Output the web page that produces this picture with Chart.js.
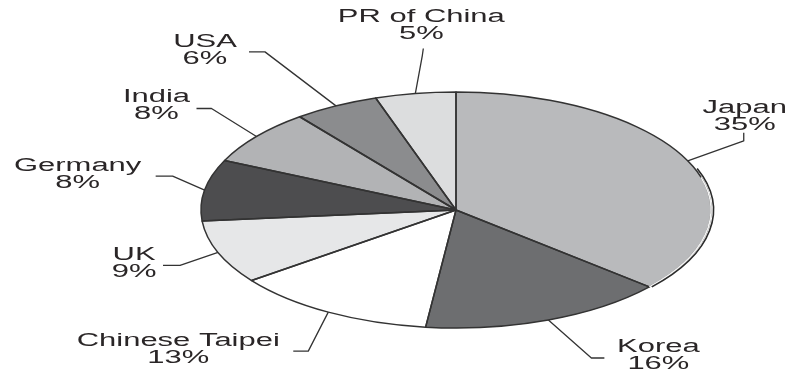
<!DOCTYPE html>
<html>
<head>
<meta charset="utf-8">
<script src="https://cdn.jsdelivr.net/npm/chart.js@4.4.1/dist/chart.umd.min.js"></script>
<style>
  html, body { margin: 0; padding: 0; background: #fff; }
  #wrap { width: 793px; height: 373px; position: relative; }
</style>
</head>
<body>
<div id="wrap"><canvas id="myChart"></canvas></div>
<script>
// pie data, clockwise from 12 o'clock
var countries = ['Japan', 'Korea', 'Chinese Taipei', 'UK', 'Germany', 'India', 'USA', 'PR of China'];
var shares = [36.3, 15.6, 12.9, 8.7, 8.4, 7.6, 5.4, 5.1];   // slice sizes
var pctLabels = ['35%', '16%', '13%', '9%', '8%', '8%', '6%', '5%'];
var fills = ['#b9babc', '#6d6e70', '#ffffff', '#e6e7e8', '#4d4d4f', '#b2b3b5', '#8b8c8e', '#dcddde'];

// leader lines: elbow offset from slice edge, tail, text centre (first line) from tail end
var leaders = [
  { elbow: [56, -20], tail: [0, -8], text: [1, -25] },
  { elbow: [43, 38], tail: [13, 0], text: [54, -11] },
  { elbow: [-20, 39], tail: [-15, 0], text: [-115, -10] },
  { elbow: [-38, 13], tail: [-17, 0], text: [-29, -10] },
  { elbow: [-32, -14], tail: [-17, 0], text: [-78, -10] },
  { elbow: [-45, -28], tail: [-15, 0], text: [-40, -11] },
  { elbow: [-71, -54], tail: [-16, 0], text: [-44, -10] },
  { elbow: [7, -38], tail: [1, -7], text: [-2, -31] }
];

var RX = 255;        // horizontal half axis of the squashed pie
var TEXT_SX = 1.72;  // the labels in the picture are stretched sideways too

function geo(chart) {
  var arcs = chart.getDatasetMeta(0).data;
  var a0 = arcs[0];
  return { arcs: arcs, cx: a0.x, cy: a0.y, r: a0.outerRadius, sx: RX / a0.outerRadius };
}

var ellipsePie = {
  id: 'ellipsePie',
  beforeDatasetsDraw: function (chart) {
    var g = geo(chart), ctx = chart.ctx;
    ctx.save();
    ctx.translate(g.cx, g.cy);
    ctx.scale(g.sx, 1);
    ctx.translate(-g.cx, -g.cy);
  },
  afterDatasetsDraw: function (chart) {
    var ctx = chart.ctx;
    ctx.restore();
    var g = geo(chart);

    // slice outlines, built in the squashed space but stroked unscaled
    ctx.save();
    ctx.lineWidth = 1.5;
    ctx.strokeStyle = '#333';
    ctx.lineJoin = 'round';
    g.arcs.forEach(function (a) {
      ctx.save();
      ctx.translate(g.cx, g.cy);
      ctx.scale(g.sx, 1);
      ctx.translate(-g.cx, -g.cy);
      ctx.beginPath();
      ctx.moveTo(g.cx, g.cy);
      ctx.arc(g.cx, g.cy, g.r, a.startAngle, a.endAngle);
      ctx.closePath();
      ctx.restore();
      ctx.stroke();
    });

    // rim on the right side of Japan
    var j = g.arcs[0];
    var r1 = -0.36, r2 = j.endAngle;
    ctx.beginPath();
    ctx.ellipse(g.cx, g.cy, RX, g.r, 0, r1 + 0.08, r2);
    ctx.strokeStyle = '#f2f2f2';
    ctx.lineWidth = 1.6;
    ctx.stroke();
    ctx.beginPath();
    ctx.ellipse(g.cx + 2.5, g.cy, RX, g.r, 0, r1, r2);
    ctx.strokeStyle = '#2b2b2b';
    ctx.lineWidth = 1.6;
    ctx.stroke();

    // leaders and labels
    ctx.font = '18px "Liberation Sans", Arial, sans-serif';
    ctx.textAlign = 'center';
    ctx.textBaseline = 'middle';
    g.arcs.forEach(function (a, i) {
      var mid = (a.startAngle + a.endAngle) / 2;
      var px = g.cx + RX * Math.cos(mid);
      var py = g.cy + g.r * Math.sin(mid);
      var L = leaders[i];
      var ex = px + L.elbow[0], ey = py + L.elbow[1];
      var tx = ex + L.tail[0], ty = ey + L.tail[1];
      ctx.beginPath();
      ctx.moveTo(px, py);
      ctx.lineTo(ex, ey);
      ctx.lineTo(tx, ty);
      ctx.strokeStyle = '#333';
      ctx.lineWidth = 1.3;
      ctx.stroke();

      var lx = tx + L.text[0], ly = ty + L.text[1];
      ctx.fillStyle = '#2a2627';
      ctx.save();
      ctx.translate(lx, ly);
      ctx.scale(TEXT_SX, 1);
      ctx.fillText(countries[i], 0, 0);
      ctx.fillText(pctLabels[i], 0, 17);
      ctx.restore();
    });
    ctx.restore();
  }
};

var ctx = document.getElementById('myChart').getContext('2d');
var myChart = new Chart(ctx, {
  type: 'pie',
  data: {
    labels: countries,
    datasets: [{
      data: shares,
      backgroundColor: fills,
      borderWidth: 0,
      hoverBorderWidth: 0,
      offset: 0,
      hoverOffset: 0,
      clip: false
    }]
  },
  options: {
    responsive: true,
    maintainAspectRatio: false,
    animation: false,
    events: [],
    layout: { padding: { left: 338, right: 219, top: 92, bottom: 45 } },
    plugins: {
      legend: { display: false },
      tooltip: { enabled: false }
    }
  },
  plugins: [ellipsePie]
});
</script>
</body>
</html>
